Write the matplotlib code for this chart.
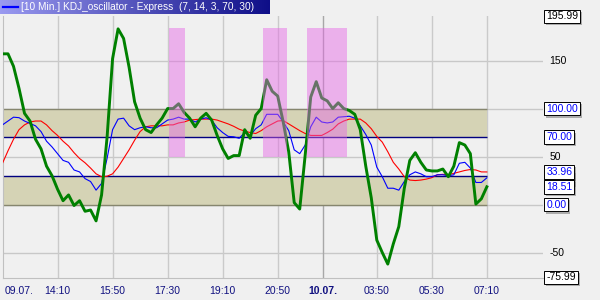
import matplotlib
matplotlib.use("Agg")
import matplotlib.pyplot as plt
import matplotlib.patheffects as pe
import numpy as np

plt.rcParams['font.family'] = ['Liberation Sans', 'DejaVu Sans']

# K (green), D (blue), J-ish slow line (red) per 10-minute bar
k_line = [157, 157, 144, 121, 95, 87, 68, 58, 40, 30, 16, 4, 10, -1, 4, -7, -5.7, -17, 10, 70,
          152, 183, 173, 143, 107, 90, 78, 75, 83, 90, 100, 100, 105, 96, 90, 81, 90, 95, 88, 72,
          58, 48, 51, 51, 78, 69, 93, 100, 130, 118, 113, 86, 55, 2, -4.7, 52, 112, 128, 111, 108,
          100, 106, 100, 98, 94, 78, 40, 7, -37, -50, -62, -41, -23, 17, 46, 54, 44, 36, 35, 35,
          37, 29, 40, 64.5, 62, 53, 0.5, 6, 18.51]
d_line = [83, 87, 91, 90.5, 87, 84.5, 82, 76, 66, 60, 53, 46, 44, 36, 34, 27, 24, 15, 22, 48,
          78, 89, 90, 82, 78, 80, 81, 80, 80, 84, 88, 89, 91, 89, 89, 86, 89, 90.4, 88, 80,
          75, 71, 70.6, 69, 75, 72, 79, 83, 94, 94, 94, 86, 77, 57, 53, 62, 81, 91, 86, 85,
          86, 91, 91.5, 92, 90, 82, 73, 62, 39, 29, 17, 17, 15, 24, 31, 34, 32, 29, 29, 31,
          31, 30, 31, 43, 44, 38, 23, 23, 27.81]
slow_line = [43, 56, 68, 78, 83, 86, 87, 87, 83, 77, 72, 66, 61, 54, 48, 43.5, 38, 32, 29, 29.5,
             32, 39, 48, 57, 67, 76, 81, 82, 82, 82, 83, 83, 85, 86, 88, 88.5, 89, 89, 89, 88,
             86, 84, 81.5, 78.5, 76.5, 75, 74, 77, 81, 84, 87, 87.5, 84, 80.5, 77, 74, 72, 72, 72, 75,
             78.5, 84, 87, 89, 89, 89, 85, 79, 71, 65, 55, 44, 37, 29, 25.5, 25, 25.5, 26.5, 28, 31,
             31.5, 31, 32.5, 34, 35.5, 36.5, 36, 34, 33.96]

# signal periods (bar index from, to)
signal_from = [30.2, 47.3, 55.4]
signal_to = [33.1, 51.7, 62.6]

tick_pos = [0, 10, 20, 30, 40, 50, 58.3, 68, 78, 88]
tick_txt = ['09.07.', '14:10', '15:50', '17:30', '19:10', '20:50', '10.07.', '03:50', '05:30', '07:10']

upper, lower = 70, 30
y_min, y_max = -75.99, 195.99

bg = '#f0f0f0'
fig = plt.figure(figsize=(6, 3), dpi=100, facecolor=bg)
ax = fig.add_axes([2.5 / 600, 1 - 277.5 / 300, 540.5 / 600, 261.1 / 300])
ax.set_facecolor(bg)
x = np.arange(len(k_line))
ax.set_xlim(0, 98.2)
ax.set_ylim(y_min, y_max)

# grid
for v in [150, 100, 50, 0, -50]:
    ax.axhline(v, color='#c8c8c8', lw=1, zorder=0)
for p, t in zip(tick_pos[1:], tick_txt[1:]):
    ax.axvline(p, color='#a8a8a8' if t == '10.07.' else '#cacaca', lw=1, zorder=0)

# zones
ax.fill_between([0, x[-1]], upper, 100, color='#d5d3b5', lw=0, zorder=1)
ax.fill_between([0, x[-1]], 0, lower, color='#d5d3b5', lw=0, zorder=1)
ax.hlines([100, 0], 0, x[-1], color='#86866e', lw=1, zorder=2)
ax.hlines([upper, lower], 0, x[-1], color='#000080', lw=1, zorder=2)

ax.plot(x, slow_line, color='#ff0000', lw=0.8, zorder=3)
ax.plot(x, d_line, color='#0000ff', lw=0.8, zorder=4)
ax.plot(x, k_line, color='#008000', lw=2.1, zorder=5)

for a, b in zip(signal_from, signal_to):
    ax.fill_between([a, b], 50, 184, color='#e664e6', alpha=0.45, lw=0, zorder=6)

for s in ['top', 'right']:
    ax.spines[s].set_visible(False)
ax.spines['left'].set_color('#c0c0c0')
ax.spines['bottom'].set_color('#c0c0c0')
ax.set_xticks([])
ax.set_yticks([])

# x labels
for p, t in zip(tick_pos, tick_txt):
    ax.text(p if p else 0.3, y_min - 14, t, ha='left' if p == 0 else 'center', va='center',
            fontsize=7.5, color='#101080', fontweight='bold' if t == '10.07.' else 'normal',
            clip_on=False)

# y labels
tr = ax.get_yaxis_transform()
for v in [150, 50, -50]:
    ax.text(1.012, v, str(v), transform=tr, ha='left', va='center', fontsize=7.5, clip_on=False)


def box_label(v, txt, color, z):
    t = ax.text(1.006, v, txt, transform=tr, ha='left', va='center', fontsize=7.5,
                color=color, zorder=z, clip_on=False,
                bbox=dict(boxstyle='square,pad=0.18', fc='white', ec='black', lw=0.7))
    t.get_bbox_patch().set_path_effects([pe.SimplePatchShadow(offset=(1.5, -1.5), shadow_rgbFace='#808080', alpha=0.6), pe.Normal()])


box_label(y_max, '%.2f' % y_max, 'black', 10)
box_label(y_min, '%.2f' % y_min, 'black', 10)
box_label(100, '100.00', '#0000ff', 10)
box_label(upper, '%.2f' % upper, '#0000ff', 10)
box_label(0, '0.00', '#0000ff', 10)
box_label(d_line[-1], '%.2f' % d_line[-1], '#0000ff', 9)
box_label(slow_line[-1], '%.2f' % slow_line[-1], '#0000ff', 11)
box_label(k_line[-1], '%.2f' % k_line[-1], '#0000ff', 11)

# title bar
tax = fig.add_axes([0, 1 - 14 / 300, 270 / 600, 14 / 300])
c0 = np.array([154, 154, 240]) / 255
c1 = np.array([14, 14, 136]) / 255
g = np.linspace(0, 1, 256)[None, :, None]
tax.imshow(c0 + (c1 - c0) * g, aspect='auto', extent=[0, 270, 0, 14])
tax.plot([3, 18], [7, 7], color='#0000ff', lw=1.6)
tax.text(21, 7, '[10 Min.] KDJ_oscillator - Express  (7, 14, 3, 70, 30)', color='white',
         fontsize=7.3, va='center', ha='left')
tax.set_xlim(0, 270)
tax.set_ylim(0, 14)
tax.axis('off')

fig.savefig('out.png', dpi=100, facecolor=bg)
